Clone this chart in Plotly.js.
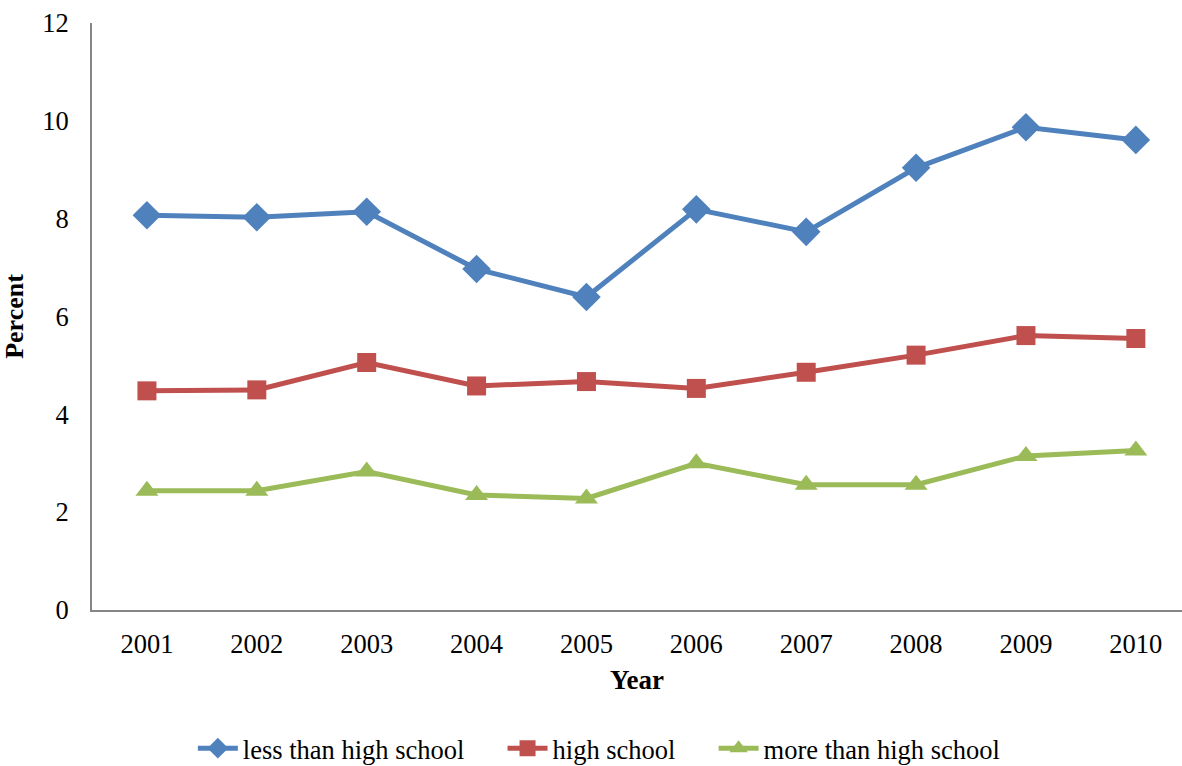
<!DOCTYPE html>
<html>
<head>
<meta charset="utf-8">
<script src="https://cdn.plot.ly/plotly-3.0.1.min.js"></script>
<style>
  html, body { margin: 0; padding: 0; background: #fff; }
  #chart { width: 1182px; height: 766px; }
</style>
</head>
<body>
<div id="chart"></div>
<script>
// Share of people (percent) by education level, 2001–2010
const years = ['2001', '2002', '2003', '2004', '2005', '2006', '2007', '2008', '2009', '2010'];
const lessThanHighSchool = [8.07, 8.03, 8.14, 6.97, 6.40, 8.19, 7.73, 9.04, 9.87, 9.61];
const highSchool = [4.48, 4.50, 5.06, 4.58, 4.67, 4.53, 4.86, 5.21, 5.61, 5.55];
const moreThanHighSchool = [2.44, 2.44, 2.83, 2.35, 2.28, 3.00, 2.56, 2.56, 3.15, 3.26];
const yTicks = [0, 2, 4, 6, 8, 10, 12];

const font = '"Liberation Serif", "Times New Roman", serif';
// extra room after a legend entry so the entries sit further apart
const gap = '\u00a0'.repeat(5);

function series(name, values, color, symbol, size) {
  return {
    type: 'scatter',
    mode: 'lines+markers',
    name: name,
    x: years,
    y: values,
    line: { color: color, width: 5 },
    marker: { color: color, symbol: symbol, size: size }
  };
}

const data = [
  series('less than high school' + gap, lessThanHighSchool, '#4F81BD', 'diamond', 22),
  series('high school' + gap, highSchool, '#C0504D', 'square', 19),
  series('more than high school', moreThanHighSchool, '#9BBB59', 'triangle-up', 20)
];

const layout = {
  width: 1182,
  height: 766,
  paper_bgcolor: '#fff',
  plot_bgcolor: '#fff',
  margin: { l: 92, r: 0, t: 23, b: 156, autoexpand: false },
  font: { family: font, size: 26.5, color: '#000' },
  showlegend: true,
  legend: {
    orientation: 'h',
    x: 0.465, xanchor: 'center',
    y: -0.195, yanchor: 'top',
    font: { family: font, size: 26.5 },
    itemwidth: 40,
    traceorder: 'normal'
  },
  xaxis: {
    type: 'category',
    range: [-0.5, 9.42],
    showgrid: false,
    zeroline: false,
    showline: true,
    linecolor: '#868686',
    linewidth: 2,
    ticks: '',
    ticklabelstandoff: 9,
    tickfont: { family: font, size: 26.5 },
    title: { text: '<b>Year</b>', font: { family: font, size: 27 }, standoff: 12 }
  },
  yaxis: {
    range: [0, 12],
    tickvals: yTicks,
    ticktext: yTicks.map(String),
    showgrid: false,
    zeroline: false,
    showline: true,
    linecolor: '#868686',
    linewidth: 2,
    ticks: '',
    ticklabelstandoff: 16,
    tickfont: { family: font, size: 26.5 },
    title: { text: '<b>Percent</b>', font: { family: font, size: 26 }, standoff: 18 }
  }
};

Plotly.newPlot('chart', data, layout, { displayModeBar: false, staticPlot: true });
</script>
</body>
</html>
